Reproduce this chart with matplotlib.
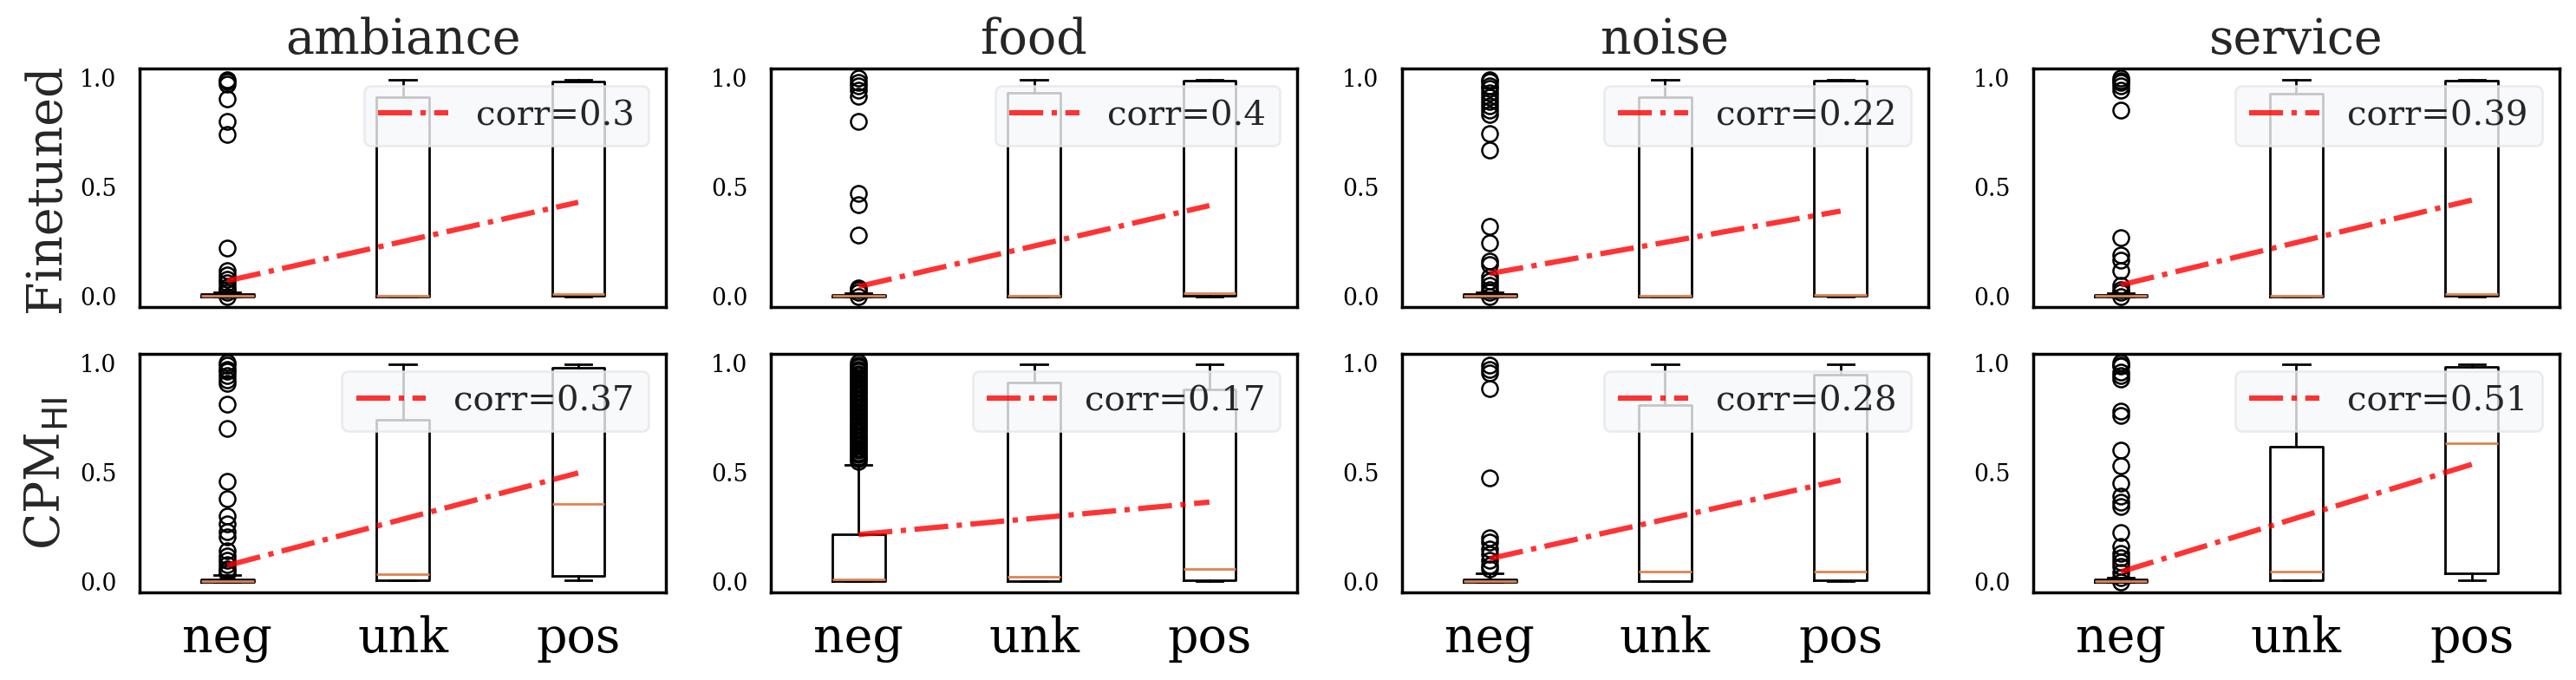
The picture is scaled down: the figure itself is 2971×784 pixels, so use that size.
import matplotlib
matplotlib.use('Agg')
import matplotlib.pyplot as plt

aspects = ['ambiance', 'food', 'noise', 'service']
models = ['Finetuned', 'CPM$_{\\mathrm{HI}}$']
cats = ['neg', 'unk', 'pos']
corr = [[0.3, 0.4, 0.22, 0.39],
        [0.37, 0.17, 0.28, 0.51]]

# box stats per panel: rows = model, cols = aspect, each -> [neg, unk, pos]
# (whislo, q1, med, q3, whishi)
box_ft = {
    'ambiance': [(0.0, 0.0, 0.005, 0.01, 0.02), (0.0, 0.0, 0.004, 0.91, 0.99), (0.0, 0.005, 0.01, 0.98, 0.99)],
    'food':     [(0.0, 0.0, 0.004, 0.008, 0.015), (0.0, 0.0, 0.003, 0.93, 0.99), (0.0, 0.005, 0.016, 0.985, 0.99)],
    'noise':    [(0.0, 0.0, 0.005, 0.01, 0.02), (0.0, 0.0, 0.003, 0.91, 0.99), (0.0, 0.003, 0.008, 0.985, 0.99)],
    'service':  [(0.0, 0.0, 0.004, 0.008, 0.015), (0.0, 0.0, 0.003, 0.926, 0.99), (0.0, 0.005, 0.013, 0.985, 0.99)],
}
box_cpm = {
    'ambiance': [(0.0, 0.0, 0.005, 0.01, 0.033), (0.007, 0.007, 0.036, 0.74, 0.993), (0.007, 0.026, 0.355, 0.976, 0.993)],
    'food':     [(0.004, 0.004, 0.013, 0.216, 0.534), (0.004, 0.004, 0.025, 0.911, 0.993), (0.005, 0.009, 0.057, 0.877, 0.993)],
    'noise':    [(0.0, 0.0, 0.005, 0.01, 0.04), (0.004, 0.004, 0.046, 0.808, 0.993), (0.004, 0.009, 0.046, 0.944, 0.993)],
    'service':  [(0.0, 0.0, 0.005, 0.01, 0.02), (0.007, 0.007, 0.046, 0.616, 0.993), (0.007, 0.04, 0.633, 0.98, 0.993)],
}

# outliers of the neg group (other groups have none)
fliers_ft = {
    'ambiance': [0.99, 0.98, 0.97, 0.90, 0.80, 0.74, 0.22, 0.12, 0.10, 0.08, 0.065, 0.045, 0.03, 0.02, 0.0],
    'food':     [0.995, 0.975, 0.96, 0.94, 0.915, 0.80, 0.47, 0.42, 0.28, 0.04, 0.03, 0.02, 0.0],
    'noise':    [0.99, 0.98, 0.96, 0.95, 0.93, 0.91, 0.89, 0.87, 0.85, 0.83, 0.745, 0.67, 0.32, 0.245,
                 0.16, 0.145, 0.09, 0.07, 0.05, 0.03, 0.02, 0.0],
    'service':  [0.995, 0.985, 0.975, 0.96, 0.94, 0.85, 0.27, 0.19, 0.165, 0.12, 0.05, 0.03, 0.02, 0.0],
}
fliers_cpm = {
    'ambiance': [1.0, 0.99, 0.97, 0.96, 0.94, 0.92, 0.905, 0.81, 0.70, 0.46, 0.38, 0.30, 0.265, 0.23,
                 0.205, 0.14, 0.12, 0.10, 0.08, 0.06, 0.05, 0.04],
    'food':     [1.0, 0.99, 0.98, 0.97, 0.96, 0.95, 0.94, 0.93, 0.92, 0.91, 0.90, 0.89, 0.88, 0.87,
                 0.86, 0.85, 0.84, 0.83, 0.82, 0.81, 0.80, 0.79, 0.78, 0.77, 0.76, 0.75, 0.74, 0.73,
                 0.72, 0.71, 0.70, 0.69, 0.68, 0.67, 0.66, 0.65, 0.64, 0.63, 0.62, 0.61, 0.60, 0.59,
                 0.58, 0.57, 0.56, 0.55],
    'noise':    [0.987, 0.967, 0.954, 0.88, 0.474, 0.20, 0.18, 0.15, 0.126, 0.10, 0.073, 0.06],
    'service':  [1.0, 0.99, 0.985, 0.955, 0.94, 0.925, 0.78, 0.76, 0.60, 0.53, 0.45, 0.39, 0.365, 0.345,
                 0.225, 0.16, 0.13, 0.11, 0.09, 0.07, 0.045, 0.02, 0.0],
}

# red trend line: value at neg and at pos
trend_ft = {'ambiance': (0.072, 0.43), 'food': (0.046, 0.415), 'noise': (0.105, 0.39), 'service': (0.053, 0.44)}
trend_cpm = {'ambiance': (0.075, 0.497), 'food': (0.216, 0.364), 'noise': (0.106, 0.464), 'service': (0.046, 0.536)}

plt.rcParams['font.family'] = 'DejaVu Serif'
plt.rcParams['text.color'] = '.15'
plt.rcParams['axes.labelcolor'] = '.15'

fig, axes = plt.subplots(2, 4, figsize=(14.855, 3.92), dpi=200, sharex=True)
plt.subplots_adjust(left=0.0542, right=0.9936, top=0.8992, bottom=0.1288, wspace=0.1993, hspace=0.196)

boxes = [box_ft, box_cpm]
fliers = [fliers_ft, fliers_cpm]
trends = [trend_ft, trend_cpm]

for r in range(2):
    for c, asp in enumerate(aspects):
        ax = axes[r, c]
        stats = []
        for k, cat in enumerate(cats):
            lo, q1, med, q3, hi = boxes[r][asp][k]
            stats.append(dict(label=cat, whislo=lo, q1=q1, med=med, q3=q3, whishi=hi,
                              fliers=fliers[r][asp] if k == 0 else []))
        ax.bxp(stats, positions=[1, 2, 3], widths=0.3,
               boxprops=dict(color='black', linewidth=1.0),
               whiskerprops=dict(color='black', linewidth=1.0),
               capprops=dict(color='black', linewidth=1.0),
               medianprops=dict(color='#dd8452', linewidth=1.0),
               flierprops=dict(marker='o', markerfacecolor='none', markeredgecolor='black',
                               markersize=6.5, markeredgewidth=0.9))
        y0, y1 = trends[r][asp]
        ax.plot([1, 3], [y0, y1], '-.', color='red', alpha=0.8, linewidth=2.2,
                label='corr=' + str(corr[r][c]))
        ax.legend(loc='upper right', fontsize=14.5, facecolor='#f7f8fa', edgecolor='#e8e8ec',
                  framealpha=0.8, handlelength=2.0, borderpad=0.4)
        ax.set_ylim(-0.048, 1.04)
        ax.set_xlim(0.5, 3.5)
        ax.set_yticks([0.0, 0.5, 1.0])
        ax.tick_params(axis='y', length=0, pad=9.5, labelsize=9.6, labelcolor='black')
        ax.tick_params(axis='x', length=0, pad=9.5, labelsize=20, labelcolor='black')
        for s in ax.spines.values():
            s.set_color('black')
            s.set_linewidth(1.25)
        if r == 0:
            ax.set_title(asp, fontsize=20)
        if c == 0:
            ax.set_ylabel(models[r], fontsize=20)
    axes[1, 0].set_xticks([1, 2, 3])
    axes[1, 0].set_xticklabels(cats)

plt.savefig('out.png', dpi=200)
